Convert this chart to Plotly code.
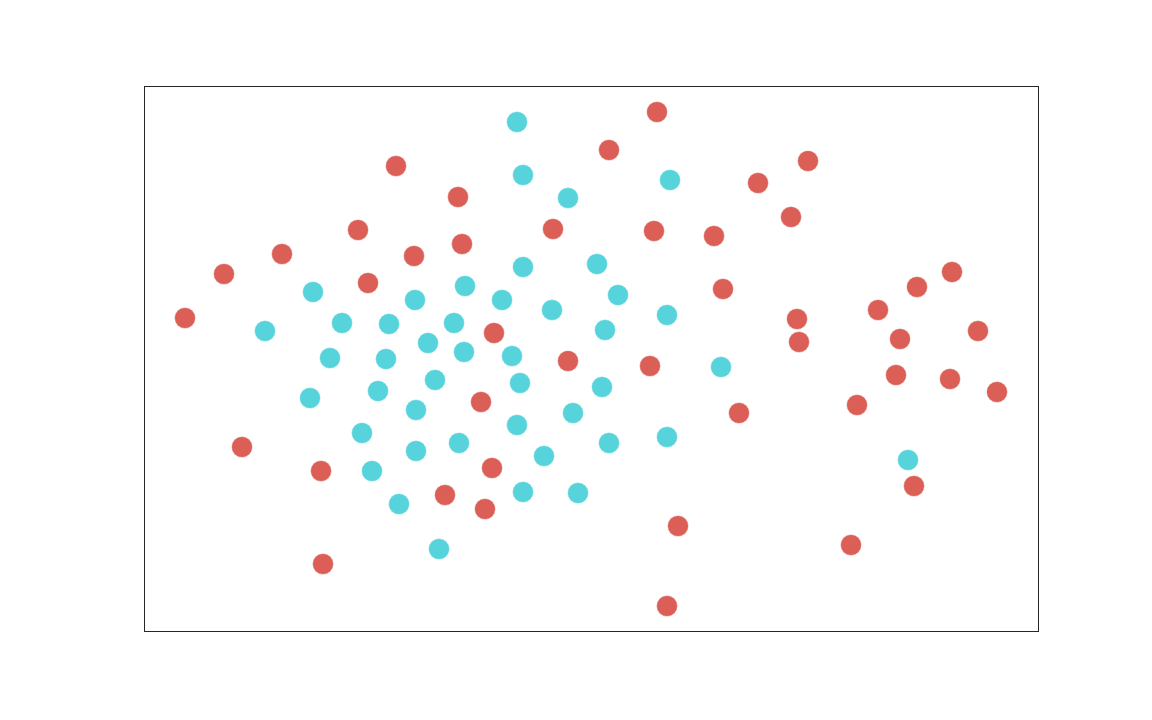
import plotly.graph_objects as go

red_x = [656, 608, 395, 807, 757, 457, 790, 357, 552, 653, 713, 461, 281, 413, 223, 367,
         951, 916, 722, 184, 877, 796, 493, 977, 899, 798, 567, 649, 895, 949, 996, 480,
         856, 738, 241, 320, 491, 913, 444, 484, 677, 850, 322, 666]
red_y_px = [111, 149, 165, 160, 182, 196, 216, 229, 228, 230, 235, 243, 253, 255, 273, 282,
            271, 286, 288, 317, 309, 318, 332, 330, 338, 341, 360, 365, 374, 378, 391, 401,
            404, 412, 446, 470, 467, 485, 494, 508, 525, 544, 563, 605]

cyan_x = [516, 522, 669, 567, 522, 596, 312, 464, 617, 414, 501, 551, 666, 264, 341, 388,
          453, 604, 427, 329, 385, 463, 511, 720, 434, 519, 377, 601, 309, 415, 572, 516,
          361, 458, 608, 666, 415, 543, 907, 371, 522, 577, 398, 438]
cyan_y_px = [121, 174, 179, 197, 266, 263, 291, 285, 294, 299, 299, 309, 314, 330, 322, 323,
             322, 329, 342, 357, 358, 351, 355, 366, 379, 382, 390, 386, 397, 409, 412, 424,
             432, 442, 442, 436, 450, 455, 459, 470, 491, 492, 503, 548]

red_y = [720 - v for v in red_y_px]
cyan_y = [720 - v for v in cyan_y_px]

RED = "#db5f57"
CYAN = "#57d3db"

fig = go.Figure()
fig.add_trace(go.Scatter(x=red_x, y=red_y, mode="markers",
                         marker=dict(color=RED, size=21, line=dict(width=0.5, color="white")),
                         showlegend=False, hoverinfo="skip"))
fig.add_trace(go.Scatter(x=cyan_x, y=cyan_y, mode="markers",
                         marker=dict(color=CYAN, size=21, line=dict(width=0.5, color="white")),
                         showlegend=False, hoverinfo="skip"))

axis_common = dict(showgrid=False, zeroline=False, showticklabels=False, ticks="",
                   showline=True, mirror=True, linecolor="#262626", linewidth=1)
fig.update_xaxes(range=[144, 1037], **axis_common)
fig.update_yaxes(range=[90, 634], **axis_common)

fig.update_layout(width=1152, height=720, plot_bgcolor="white", paper_bgcolor="white",
                  margin=dict(l=137, r=122, t=79, b=97), showlegend=False)

fig.write_html("out.html")
